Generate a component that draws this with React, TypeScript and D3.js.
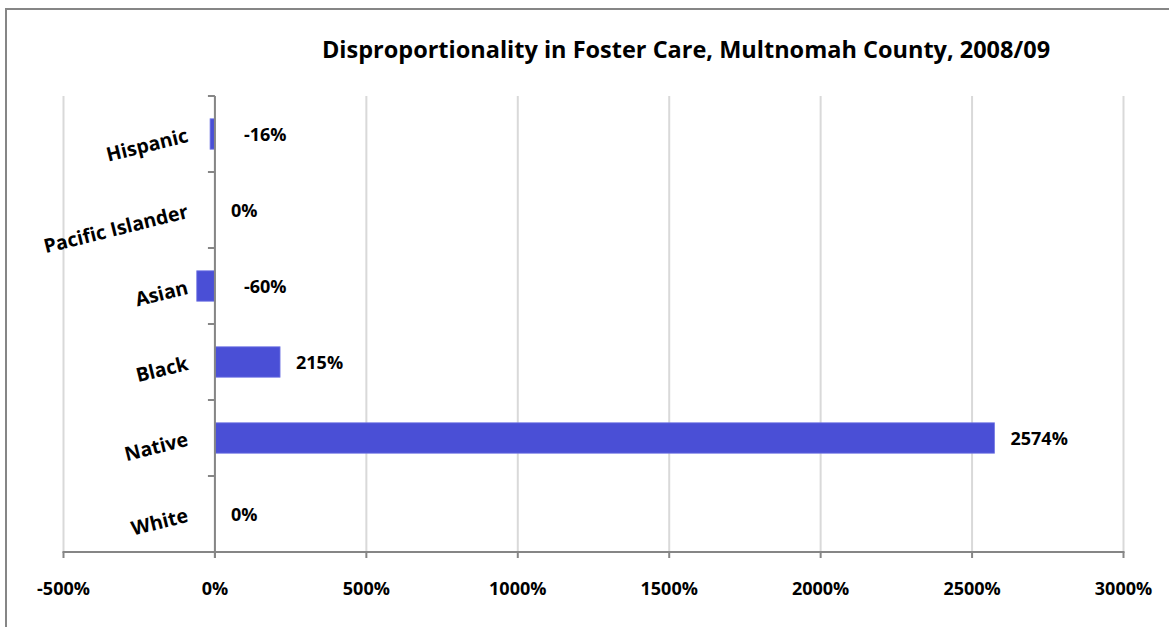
import React from "react";
import * as d3 from "d3";

const title = "Disproportionality in Foster Care, Multnomah County, 2008/09";
const categories = ["Hispanic", "Pacific Islander", "Asian", "Black", "Native", "White"];
const values = [-16, 0, -60, 215, 2574, 0];
const xTicks = [-500, 0, 500, 1000, 1500, 2000, 2500, 3000];

const W = 1169;
const H = 627;
const FONT = "'Open Sans', Lato, sans-serif";
const BAR = "#4a4fd6";
const GRID = "#d9d9d9";
const AXIS = "#868686";

export default function App() {
  const x = d3.scaleLinear().domain([-500, 3000]).range([63.5, 1123.5]);
  const y = d3
    .scaleBand<string>()
    .domain(categories)
    .range([96, 552])
    .paddingInner(0.6)
    .paddingOuter(0.3);
  const step = y.step();
  const top = 96;
  const bottom = 552;
  const bounds = d3.range(categories.length + 1).map((i) => top + i * step);
  const fmt = (v: number) => `${v}%`;

  return (
    <svg
      width={W}
      height={H}
      style={{ position: "absolute", left: 0, top: 0, background: "#fff" }}
      fontFamily={FONT}
    >
      <rect x={6} y={9} width={W + 20} height={H + 20} fill="#fff" stroke={AXIS} strokeWidth={2} />
      <text x={686} y={58} textAnchor="middle" fontSize={23.5} fontWeight={700} fill="#000">
        {title}
      </text>
      {xTicks.map((t) => (
        <line key={"g" + t} x1={x(t)} x2={x(t)} y1={top} y2={bottom} stroke={GRID} strokeWidth={2} />
      ))}
      {categories.map((c, i) => {
        const v = values[i];
        const x0 = x(Math.min(0, v));
        const x1 = x(Math.max(0, v));
        return (
          <rect
            key={"b" + c}
            x={x0}
            y={y(c)!}
            width={Math.max(0, x1 - x0)}
            height={y.bandwidth()}
            fill={BAR}
            stroke="#7479e4"
            strokeWidth={v === 0 ? 0 : 0.8}
          />
        );
      })}
      {/* y axis */}
      <line x1={x(0)} x2={x(0)} y1={top} y2={bottom + 6} stroke={AXIS} strokeWidth={2} />
      {bounds.map((b, i) => (
        <line key={"yt" + i} x1={x(0) - 7} x2={x(0)} y1={b} y2={b} stroke={AXIS} strokeWidth={2} />
      ))}
      {/* x axis */}
      <line x1={x(-500) - 1} x2={x(3000) + 1} y1={bottom} y2={bottom} stroke={AXIS} strokeWidth={2} />
      {xTicks.map((t) => (
        <g key={"xt" + t}>
          <line x1={x(t)} x2={x(t)} y1={bottom} y2={bottom + 6} stroke={AXIS} strokeWidth={2} />
          <text x={x(t)} y={595} textAnchor="middle" fontSize={18} fontWeight={700} fill="#000">
            {fmt(t)}
          </text>
        </g>
      ))}
      {categories.map((c) => {
        const cy = y(c)! + y.bandwidth() / 2;
        return (
          <text
            key={"c" + c}
            transform={`translate(188,${cy + 2.5}) rotate(-14)`}
            textAnchor="end"
            dominantBaseline="middle"
            fontSize={19.5}
            fontWeight={700}
            fill="#000"
          >
            {c}
          </text>
        );
      })}
      {categories.map((c, i) => {
        const v = values[i];
        const cy = y(c)! + y.bandwidth() / 2;
        const lx = v >= 0 ? x(v) + 16 : x(0) + 29;
        return (
          <text
            key={"v" + c}
            x={lx}
            y={cy + 2}
            dominantBaseline="middle"
            fontSize={18}
            fontWeight={700}
            fill="#000"
          >
            {fmt(v)}
          </text>
        );
      })}
    </svg>
  );
}
